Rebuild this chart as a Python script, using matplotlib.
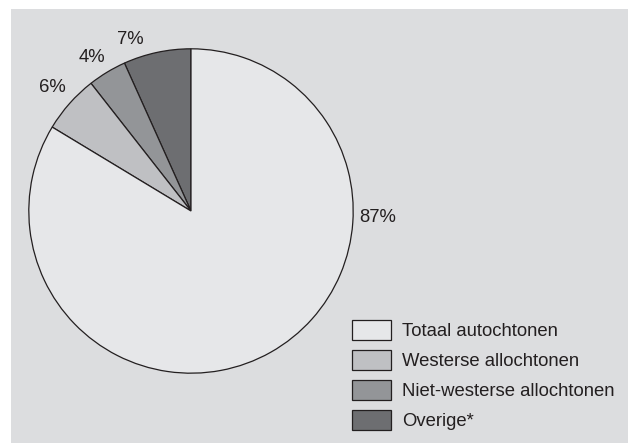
import matplotlib.pyplot as plt
from matplotlib.patches import Rectangle

plt.rcParams['font.family'] = ['Liberation Sans', 'DejaVu Sans']

# slices, counterclockwise from the top
groups = ["Overige*", "Niet-westerse allochtonen", "Westerse allochtonen", "Totaal autochtonen"]
shares = [7, 4, 6, 87]
colors = ["#6d6e71", "#939598", "#bfc0c3", "#e6e7e9"]
pct_labels = ["7%", "4%", "6%", "87%"]
legend_order = [3, 2, 1, 0]

W, H = 628, 443
fig = plt.figure(figsize=(W / 100, H / 100), dpi=100)
fig.patch.set_facecolor("white")

# grey panel behind the chart
fig.patches.append(Rectangle((11 / W, 0), 1 - 11 / W, 1 - 9 / H, transform=fig.transFigure,
                             facecolor="#dcdddf", edgecolor="none", zorder=-1))

cx, cy, r = 191, 211, 163
ax = fig.add_axes([(cx - r) / W, (H - cy - r) / H, 2 * r / W, 2 * r / H])
ax.set_zorder(2)
ax.set_facecolor("none")
wedges, _ = ax.pie(shares, colors=colors, startangle=90, counterclock=True, radius=1,
                   wedgeprops=dict(edgecolor="#231f20", linewidth=0.9))
ax.set_xlim(-1.005, 1.005)
ax.set_ylim(-1.005, 1.005)
ax.set_aspect("equal")

# percentage labels, placed in pixel coords
fs = 13.3
label_pos = [(130, 40), (92, 58), (52, 88), (378, 218)]
for txt, (px, py) in zip(pct_labels, label_pos):
    fig.text(px / W, 1 - py / H, txt, fontsize=fs, color="#231f20", ha="center", va="center",
             zorder=3)

leg = fig.legend([wedges[i] for i in legend_order], [groups[i] for i in legend_order],
                 loc="upper left", bbox_to_anchor=(352 / W, 1 - 320 / H),
                 frameon=False, fontsize=fs, handlelength=2.1, handleheight=1.25,
                 labelspacing=0.55, handletextpad=0.62, borderpad=0, borderaxespad=0,
                 labelcolor="#231f20")
leg.set_zorder(3)

fig.savefig("out.png", dpi=100, facecolor=fig.get_facecolor())
